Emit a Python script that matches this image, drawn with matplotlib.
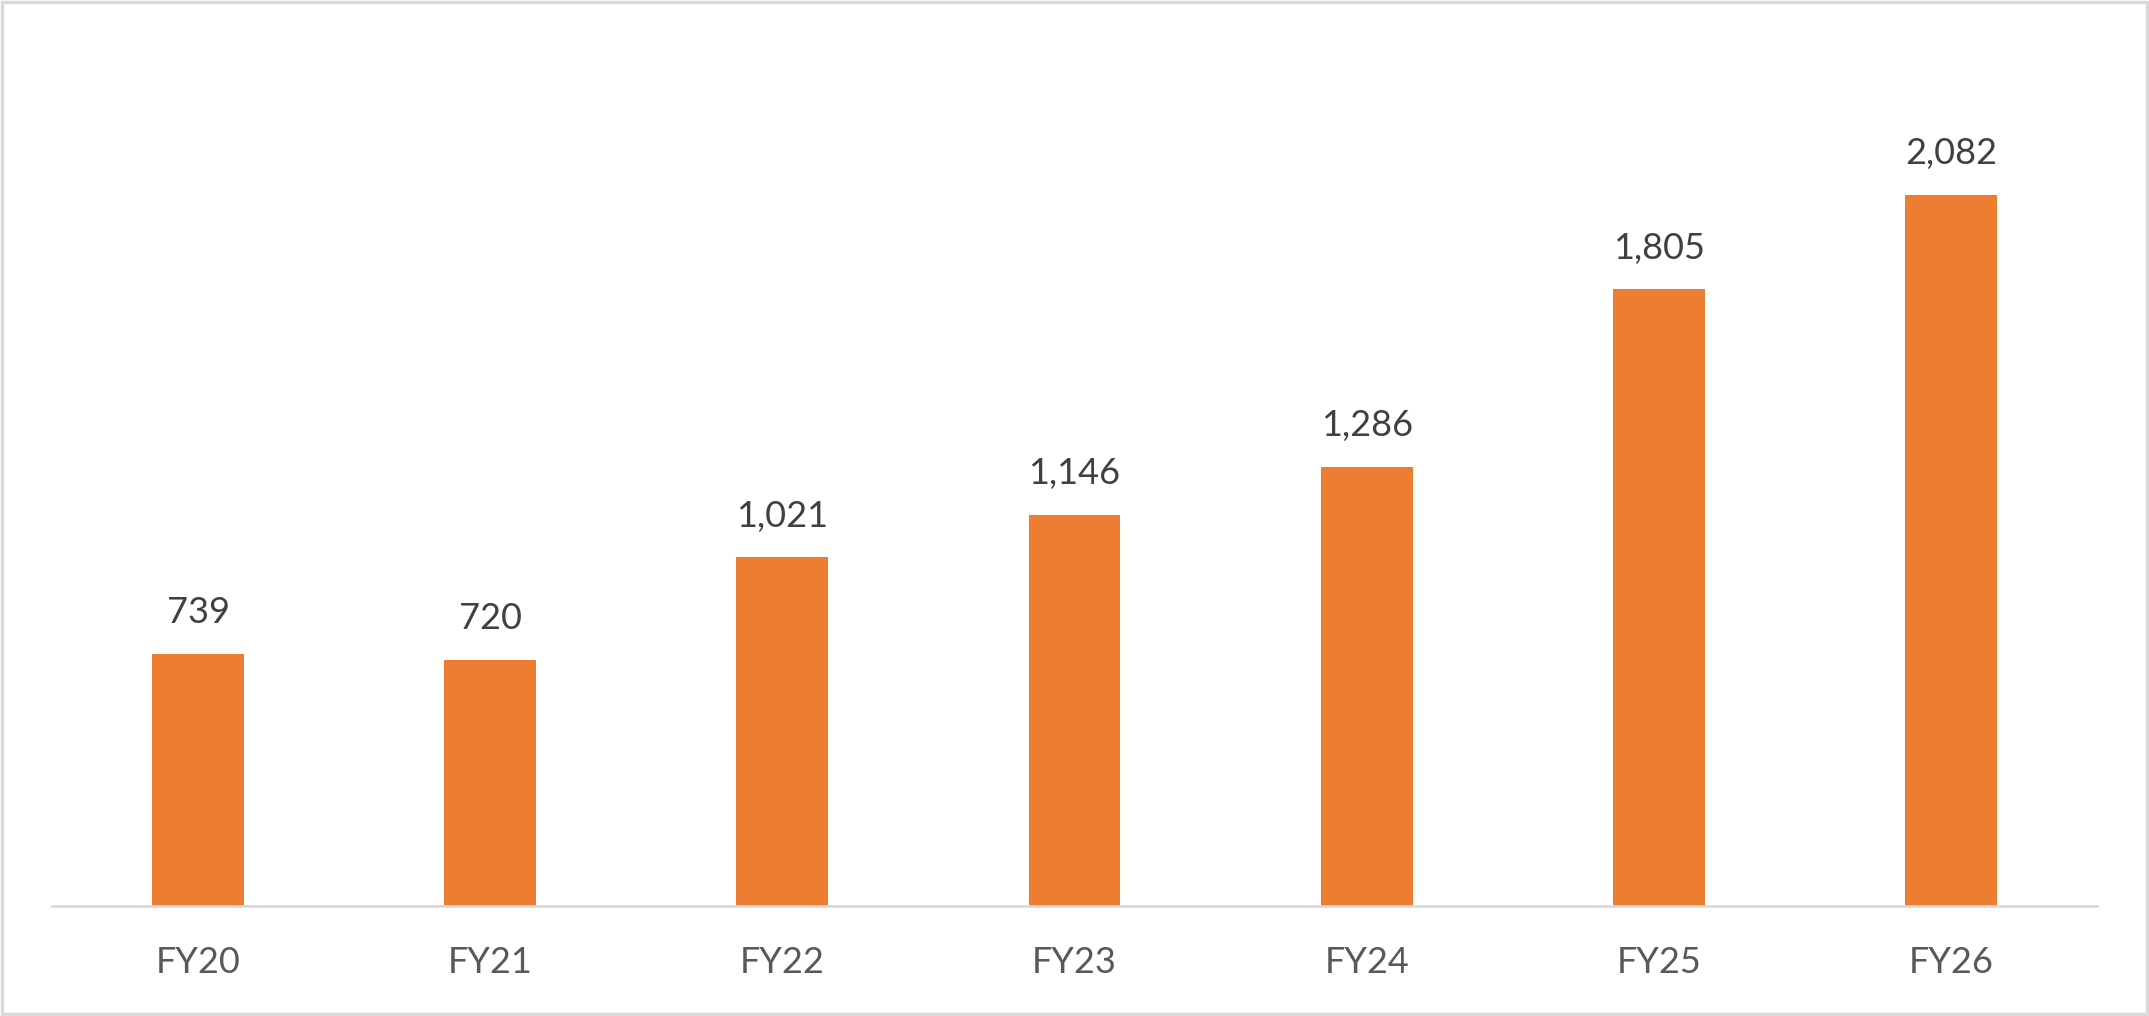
import matplotlib.pyplot as plt
from matplotlib.patches import Rectangle

# Data
categories = ['FY20', 'FY21', 'FY22', 'FY23', 'FY24', 'FY25', 'FY26']
values = [739, 720, 1021, 1146, 1286, 1805, 2082]

plt.rcParams['font.family'] = ['Lato', 'DejaVu Sans']

fig = plt.figure(figsize=(21.49, 10.16), dpi=100)
ax = fig.add_axes([0.0242, 0.1083, 0.9516, 0.8405])

x = range(len(categories))
bars = ax.bar(x, values, width=0.314, color='#ED7D31', zorder=2)

for xi, v in zip(x, values):
    ax.annotate(f'{v:,}', (xi, v), xytext=(0, 22), textcoords='offset points',
                ha='center', va='baseline', fontsize=26, color='#404040')

ax.set_xlim(-0.5, len(categories) - 0.5)
ax.set_ylim(0, 2500)
ax.set_xticks(list(x))
ax.set_xticklabels(categories, fontsize=26, color='#595959')
ax.set_yticks([])
ax.tick_params(axis='x', length=0, pad=29)

for s in ['top', 'right', 'left']:
    ax.spines[s].set_visible(False)
ax.spines['bottom'].set_color('#D9D9D9')
ax.spines['bottom'].set_linewidth(2)

# outer frame around the chart
fig.patches.append(Rectangle((0.001, 0.002), 0.998, 0.996, transform=fig.transFigure,
                             fill=False, edgecolor='#D9D9D9', linewidth=2.5))

fig.savefig('out.png', dpi=100)
